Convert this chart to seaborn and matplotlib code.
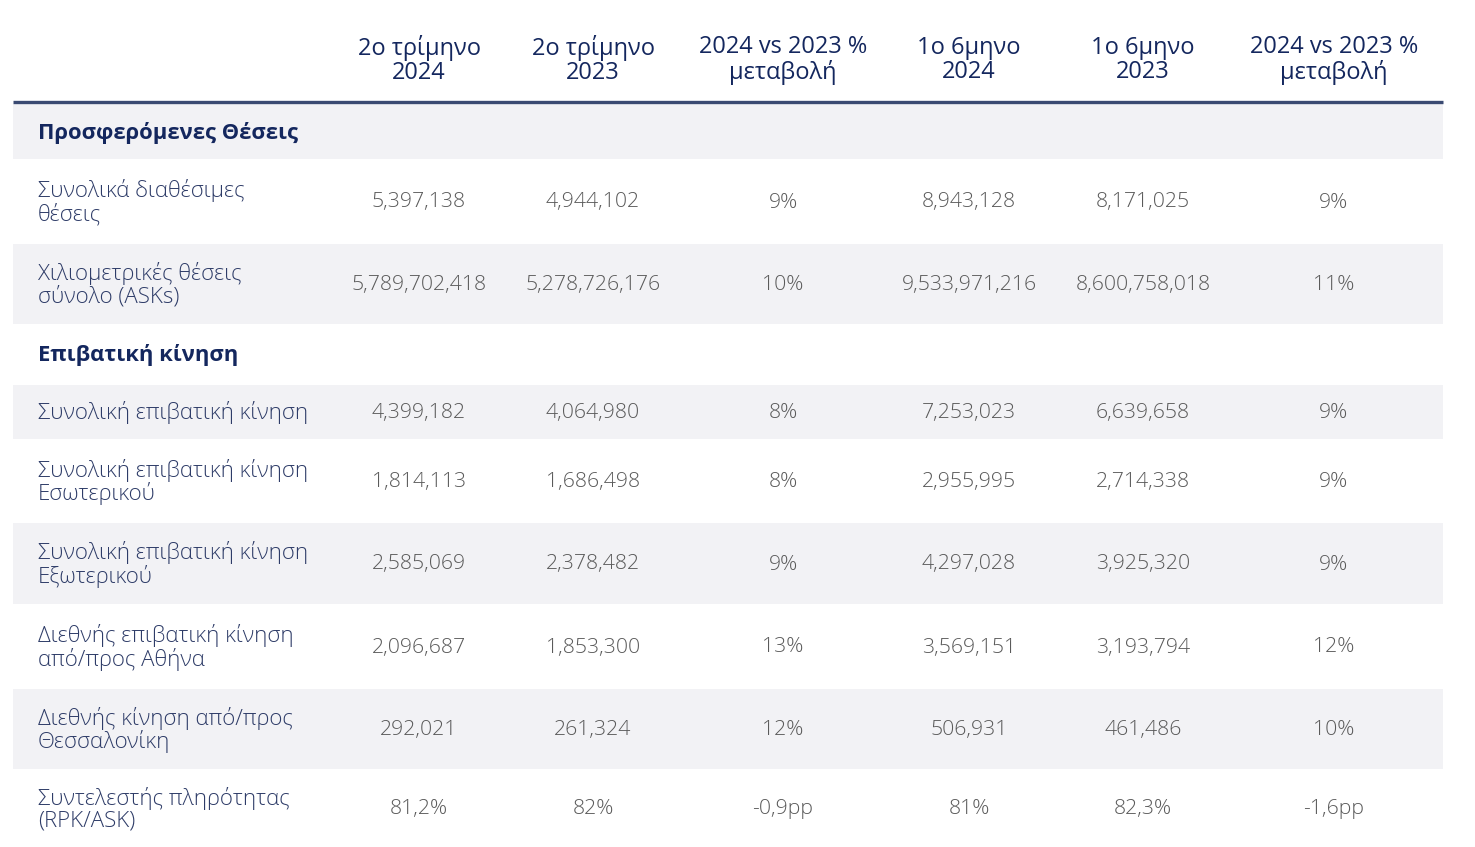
import matplotlib
matplotlib.use("Agg")
import matplotlib.pyplot as plt
import seaborn as sns
import pandas as pd

# ---- data ----
col_headers = ["2ο τρίμηνο\n2024", "2ο τρίμηνο\n2023", "2024 vs 2023 %\nμεταβολή",
               "1ο 6μηνο\n2024", "1ο 6μηνο\n2023", "2024 vs 2023 %\nμεταβολή"]
row_labels = [
    "Προσφερόμενες Θέσεις",
    "Συνολικά διαθέσιμες\nθέσεις",
    "Χιλιομετρικές θέσεις\nσύνολο (ASKs)",
    "Επιβατική κίνηση",
    "Συνολική επιβατική κίνηση",
    "Συνολική επιβατική κίνηση\nΕσωτερικού",
    "Συνολική επιβατική κίνηση\nΕξωτερικού",
    "Διεθνής επιβατική κίνηση\nαπό/προς Αθήνα",
    "Διεθνής κίνηση από/προς\nΘεσσαλονίκη",
    "Συντελεστής πληρότητας\n(RPK/ASK)",
]
is_section = [True, False, False, True, False, False, False, False, False, False]
q2_2024 = ["", "5,397,138", "5,789,702,418", "", "4,399,182", "1,814,113", "2,585,069", "2,096,687", "292,021", "81,2%"]
q2_2023 = ["", "4,944,102", "5,278,726,176", "", "4,064,980", "1,686,498", "2,378,482", "1,853,300", "261,324", "82%"]
q2_chg = ["", "9%", "10%", "", "8%", "8%", "9%", "13%", "12%", "-0,9pp"]
h1_2024 = ["", "8,943,128", "9,533,971,216", "", "7,253,023", "2,955,995", "4,297,028", "3,569,151", "506,931", "81%"]
h1_2023 = ["", "8,171,025", "8,600,758,018", "", "6,639,658", "2,714,338", "3,925,320", "3,193,794", "461,486", "82,3%"]
h1_chg = ["", "9%", "11%", "", "9%", "9%", "9%", "12%", "10%", "-1,6pp"]

df = pd.DataFrame({"label": row_labels, "c1": q2_2024, "c2": q2_2023, "c3": q2_chg,
                   "c4": h1_2024, "c5": h1_2023, "c6": h1_chg})

# ---- layout (pixels) ----
W, H = 1475, 847
row_edges = [104, 161, 244, 326, 385, 441, 523, 606, 689, 771, 847]
row_shaded = [True, False, True, False, True, False, True, False, True, False]
col_x = [419, 593, 783, 969, 1143, 1334]
label_x = 38
left, right = 13, 1443

sns.set_theme(style="white")
plt.rcParams["font.family"] = ["Open Sans", "DejaVu Sans"]

navy = "#14275e"
label_col = "#2e3c68"
val_col = "#5a5a5a"
shade = "#f2f2f5"

fig = plt.figure(figsize=(W / 100, H / 100), dpi=100)
ax = fig.add_axes([0, 0, 1, 1])
ax.set_xlim(0, W)
ax.set_ylim(H, 0)
ax.axis("off")

# header
for x, h in zip(col_x, col_headers):
    ax.text(x, 60, h, ha="center", va="center", fontsize=17, color=navy,
            linespacing=1.05, fontweight="medium")
ax.plot([left, right], [102, 102], color="#3a4a72", lw=2.4, solid_capstyle="butt")

# rows
for i, row in df.iterrows():
    y0, y1 = row_edges[i], row_edges[i + 1]
    yc = (y0 + y1) / 2
    if row_shaded[i]:
        ax.fill_between([left, right], y0, y1 - 2, color=shade, lw=0)
    if is_section[i]:
        ax.text(label_x, yc, row["label"], ha="left", va="center", fontsize=15.8,
                color=navy, fontweight="bold")
    else:
        ax.text(label_x, yc, row["label"], ha="left", va="center", fontsize=16,
                color=label_col, linespacing=1.05, fontweight="light")
        for x, c in zip(col_x, ["c1", "c2", "c3", "c4", "c5", "c6"]):
            ax.text(x, yc, row[c], ha="center", va="center", fontsize=15.3,
                    color=val_col, fontweight="light")

fig.savefig("out.png", dpi=100, facecolor="white")
